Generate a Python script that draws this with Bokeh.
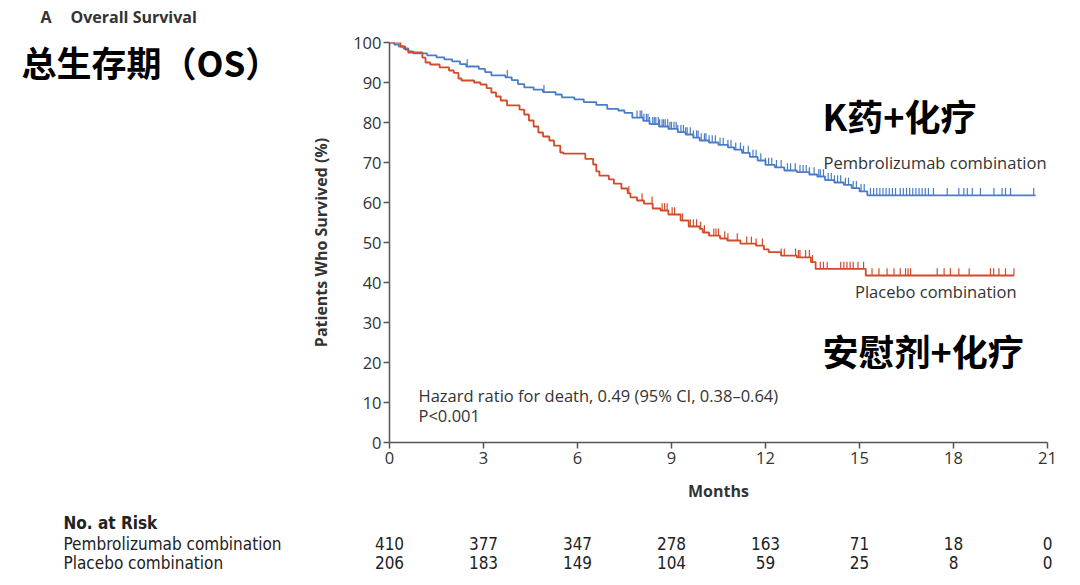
from bokeh.plotting import figure
from bokeh.models import Range1d, Label, FixedTicker
from bokeh.layouts import column, row
from bokeh.embed import file_html
from bokeh.resources import INLINE

# ---------------- data ----------------
pembro_t = [0, 0.15, 0.3, 0.45, 0.6, 0.75, 1.2, 1.5, 1.75, 2.0, 2.25, 2.45, 2.85, 3.05, 3.25,
            3.7, 3.9, 4.1, 4.3, 4.6, 4.9, 5.3, 5.5, 5.9, 6.2, 6.6, 6.95, 7.3, 7.5, 7.75,
            8.1, 8.3, 8.6, 8.9, 9.2, 9.45, 9.7, 9.9, 10.2, 10.5, 10.8, 11.0, 11.25, 11.5,
            11.75, 12.0, 12.3, 12.6, 13.0, 13.4, 13.65, 13.9, 14.2, 14.5, 14.75, 15.0, 15.25, 20.62]
pembro_s = [100, 99.5, 99.0, 98.5, 97.8, 97.3, 96.8, 96.3, 95.8, 95.3, 94.6, 94.0, 93.4, 92.6, 91.8,
            91.3, 90.6, 89.6, 88.8, 88.2, 87.6, 87.0, 86.3, 85.8, 85.1, 84.4, 83.4, 83.0, 82.4, 81.2,
            80.4, 79.6, 79.0, 78.4, 77.6, 77.0, 76.2, 75.5, 75.0, 74.4, 73.8, 73.2, 72.4, 71.4,
            70.5, 69.4, 68.8, 68.0, 67.6, 67.0, 66.5, 65.6, 65.0, 64.4, 63.6, 62.8, 61.8, 61.8]

placebo_t = [0, 0.35, 0.5, 0.6, 1.05, 1.15, 1.3, 1.6, 1.9, 2.05, 2.2, 2.3, 2.7, 2.9, 3.1, 3.25,
             3.4, 3.55, 3.75, 4.15, 4.3, 4.45, 4.6, 4.75, 4.9, 5.1, 5.25, 5.45, 5.55, 6.25, 6.5,
             6.6, 6.7, 7.0, 7.16, 7.4, 7.6, 7.69, 7.9, 8.12, 8.4, 8.65, 8.9, 9.29, 9.55, 9.9,
             10.0, 10.2, 10.55, 10.78, 11.2, 11.7, 11.95, 12.1, 12.5, 13.0, 13.45, 13.6, 15.2, 19.93]
placebo_s = [100, 99.0, 98.2, 97.5, 96.2, 95.0, 94.5, 93.8, 93.0, 92.4, 91.0, 90.5, 90.0, 89.5, 88.6, 87.5,
             86.5, 85.5, 84.3, 83.2, 82.0, 80.5, 79.0, 77.5, 76.5, 75.5, 74.2, 72.5, 72.2, 70.9, 69.5,
             67.8, 66.7, 65.8, 64.7, 63.5, 62.3, 61.3, 60.5, 59.7, 58.5, 58.0, 57.0, 55.5, 54.0, 53.4,
             52.5, 51.7, 51.0, 50.5, 49.7, 49.2, 48.3, 47.6, 46.7, 46.3, 45.1, 43.4, 41.75, 41.75]

pembro_censor = [2.48, 3.76, 4.93, 7.9, 8.0, 8.05, 8.12, 8.2, 8.25, 8.3, 8.4, 8.45, 8.5, 8.58, 8.62,
                 8.7, 8.75, 8.8, 8.88, 8.95, 9.0, 9.08, 9.15, 9.2, 9.3, 9.38, 9.45, 9.5, 9.6, 9.7,
                 9.8, 9.85, 9.95, 10.05, 10.1, 10.2, 10.3, 10.4, 10.55, 10.65, 10.8, 10.9, 11.05,
                 11.2, 11.3, 11.45, 11.6, 11.7, 11.85, 12.0, 12.1, 12.2, 12.35, 12.5, 12.7, 12.8,
                 12.95, 13.1, 13.2, 13.3, 13.4, 13.55, 13.7, 13.75, 13.85, 14.0, 14.1, 14.2, 14.3,
                 14.4, 14.55, 14.65, 14.8, 14.9, 15.05, 15.15, 15.35, 15.45, 15.55, 15.65, 15.75,
                 15.85, 15.95, 16.05, 16.15, 16.3, 16.4, 16.5, 16.6, 16.7, 16.8, 16.9, 17.0, 17.1,
                 17.2, 17.36, 17.8, 18.17, 18.33, 18.44, 18.6, 18.86, 19.29, 19.55, 19.66, 19.82, 20.56]
placebo_censor = [7.64, 8.06, 8.38, 8.7, 8.78, 8.86, 9.02, 9.1, 9.35, 9.6, 9.7, 9.8, 9.93, 10.05,
                  10.35, 10.42, 10.5, 10.7, 10.8, 11.1, 11.4, 11.55, 11.7, 11.9, 12.5, 12.6, 12.96,
                  13.05, 13.1, 13.28, 13.4, 13.5, 13.75, 13.85, 13.97, 14.4, 14.5, 14.6, 14.7, 14.8,
                  14.95, 15.13, 15.4, 15.62, 15.88, 16.1, 16.3, 16.47, 16.55, 16.63, 17.48, 17.7,
                  17.9, 18.17, 18.5, 19.18, 19.28, 19.45, 19.66, 19.93]

risk_months = [0, 3, 6, 9, 12, 15, 18, 21]
pembro_risk = [410, 377, 347, 278, 163, 71, 18, 0]
placebo_risk = [206, 183, 149, 104, 59, 25, 8, 0]

x_ticks = [0, 3, 6, 9, 12, 15, 18, 21]
y_ticks = [0, 10, 20, 30, 40, 50, 60, 70, 80, 90, 100]

# ---------------- styling ----------------
BLUE = "#4a7cc6"
RED = "#d14b2b"
AXIS = "#555555"
TXT = "#333333"
FONT = "Open Sans"
NARROW = "'Liberation Sans Narrow', 'DejaVu Sans Condensed', sans-serif"
CJK = "Noto Sans CJK SC"

# page geometry (pixels)
W, H = 1064, 577
HEAD_H = 30           # header strip
LEFT_W = 300          # left title panel
TOP_H = 508           # bottom edge of the main row (page px)
FX0, FX1 = 389, 1047  # frame left / right (page px)
FY0, FY1 = 42, 442    # frame top / bottom (page px)
ROW_H = TOP_H - HEAD_H
BORDER_T = FY0 - HEAD_H
BORDER_B = TOP_H - FY1


def blank(width, height, xr, yr, top=0, bottom=0):
    f = figure(width=width, height=height, output_backend="svg", toolbar_location=None,
               x_range=xr, y_range=yr, x_axis_location=None, y_axis_location=None,
               min_border=0, min_border_left=0, min_border_right=0,
               min_border_top=top, min_border_bottom=bottom)
    f.grid.visible = False
    f.outline_line_color = None
    f.background_fill_color = "white"
    f.border_fill_color = "white"
    return f


# ---------------- main KM plot ----------------
p = figure(width=W - LEFT_W, height=ROW_H, output_backend="svg", toolbar_location=None,
           x_range=Range1d(0, 21), y_range=Range1d(0, 100),
           min_border_left=FX0 - LEFT_W, min_border_right=W - FX1,
           min_border_top=BORDER_T, min_border_bottom=BORDER_B)
p.grid.visible = False
p.outline_line_color = None
p.background_fill_color = "white"
p.border_fill_color = "white"

for ax in (p.xaxis[0], p.yaxis[0]):
    ax.axis_line_color = AXIS
    ax.axis_line_width = 1.5
    ax.major_tick_line_color = AXIS
    ax.major_tick_line_width = 1.5
    ax.major_tick_in = 0
    ax.major_tick_out = 6
    ax.minor_tick_line_color = None
    ax.major_label_text_font = FONT
    ax.major_label_text_font_size = "16.5px"
    ax.major_label_text_color = TXT
    ax.axis_label_text_font = FONT
    ax.axis_label_text_font_style = "bold"
    ax.axis_label_text_font_size = "16px"
    ax.axis_label_text_color = TXT

p.xaxis.ticker = FixedTicker(ticks=x_ticks)
p.yaxis.ticker = FixedTicker(ticks=y_ticks)
p.xaxis.axis_label = "Months"
p.yaxis.axis_label = "Patients Who Survived (%)"
p.xaxis.major_label_standoff = 3
p.xaxis.axis_label_standoff = 13
p.yaxis.major_label_standoff = 2
p.yaxis.axis_label_standoff = 18

p.step(pembro_t, pembro_s, mode="after", line_color=BLUE, line_width=1.8)
p.step(placebo_t, placebo_s, mode="after", line_color=RED, line_width=1.8)


def surv_at(ts, ss, t):
    v = ss[0]
    for a, b in zip(ts, ss):
        if a <= t:
            v = b
    return v


TICK = 1.8
for cens, ts, ss, col in ((pembro_censor, pembro_t, pembro_s, BLUE),
                           (placebo_censor, placebo_t, placebo_s, RED)):
    ys = [surv_at(ts, ss, c) for c in cens]
    p.segment(x0=cens, y0=ys, x1=cens, y1=[y + TICK for y in ys], line_color=col, line_width=1.2)

px_per_month = (FX1 - FX0) / 21.0


def mx(px):
    return (px - FX0) / px_per_month


def my(py):
    return (FY1 - py) / 4.0


def lab(fig, text, x, y, size, font=FONT, style="normal", color=TXT, align="left", base="middle"):
    fig.add_layout(Label(x=x, y=y, text=text, text_font=font, text_font_size=size,
                         text_font_style=style, text_color=color, text_align=align,
                         text_baseline=base))


lab(p, "K药+化疗", mx(822), my(114), "36px", font=CJK, style="bold", color="#000000")
lab(p, "安慰剂+化疗", mx(822), my(349), "36px", font=CJK, style="bold", color="#000000")
lab(p, "Pembrolizumab combination", mx(1046), my(162), "16.5px", align="right")
lab(p, "Placebo combination", mx(1016), my(291), "16.5px", align="right")
lab(p, "Hazard ratio for death, 0.49 (95% CI, 0.38\u20130.64)", mx(418), my(395), "16.5px")
lab(p, "P<0.001", mx(418), my(415), "16.5px")

# ---------------- header strip (page pixel coords) ----------------
head = blank(W, HEAD_H, Range1d(0, W), Range1d(HEAD_H, 0))
lab(head, "A", 40, 16, "16px", style="bold")
lab(head, "Overall Survival", 70, 16, "16px", style="bold")

# ---------------- left title panel (page pixel coords, frame aligned with main) ----------------
left = blank(LEFT_W, ROW_H, Range1d(0, LEFT_W), Range1d(FY1, FY0), top=BORDER_T, bottom=BORDER_B)
lab(left, "总生存期（OS）", 21, 61, "35px", font=CJK, style="bold", color="#000000")

# ---------------- risk table (x in months, y in page px) ----------------
bot = blank(W, H - TOP_H, Range1d(mx(0), mx(W)), Range1d(H, TOP_H))
lab(bot, "No. at Risk", mx(63), 522, "17px", font=NARROW, style="bold", color="#222222")
lab(bot, "Pembrolizumab combination", mx(63), 543, "17px", font=NARROW, color="#222222")
lab(bot, "Placebo combination", mx(63), 562, "17px", font=NARROW, color="#222222")
for m, a, b in zip(risk_months, pembro_risk, placebo_risk):
    lab(bot, str(a), m, 543, "17px", font=NARROW, color="#222222", align="center")
    lab(bot, str(b), m, 562, "17px", font=NARROW, color="#222222", align="center")

layout = column(head, row(left, p), bot)
open("out.html", "w").write(file_html(layout, INLINE))
